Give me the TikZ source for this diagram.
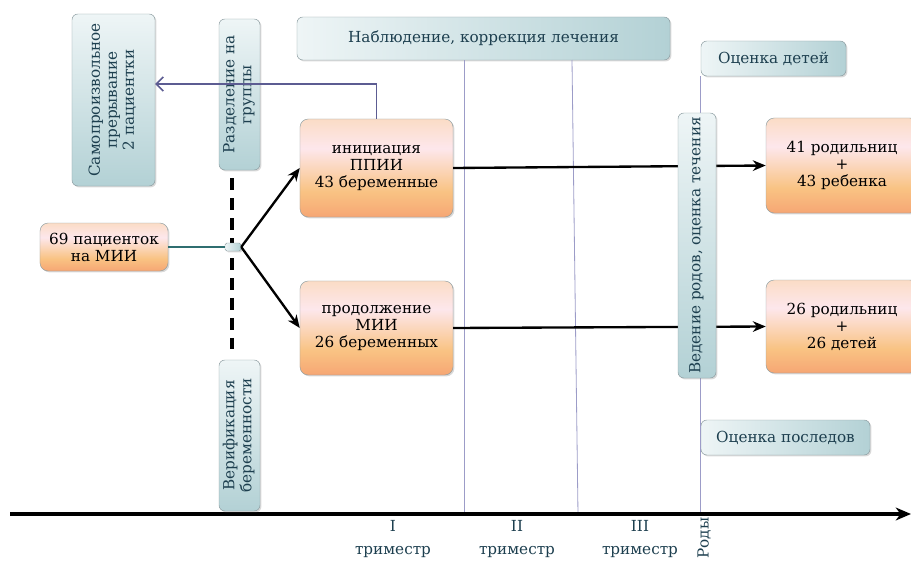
\documentclass[tikz,border=0pt]{standalone}
\usepackage{fontspec}
\setmainfont{DejaVu Serif}
\usetikzlibrary{arrows.meta,shadows}
\definecolor{boxtext}{HTML}{1D3F4F}
\definecolor{bluelight}{HTML}{EEF5F6}
\definecolor{bluedark}{HTML}{B3D1D5}
\definecolor{boxborder}{HTML}{8E9EA2}
\definecolor{timeline}{HTML}{9C9CC8}
\definecolor{backarrow}{HTML}{5C5C92}
\definecolor{feedline}{HTML}{2F6E70}
\definecolor{obot}{HTML}{F6A674}
\definecolor{oyel}{HTML}{F9C383}
\definecolor{opink}{HTML}{FDE7EC}
\definecolor{otop}{HTML}{FBDCC6}
\pgfdeclareverticalshading{orangefill}{100bp}{color(0bp)=(obot); color(25bp)=(obot); color(38bp)=(oyel); color(60bp)=(opink); color(75bp)=(otop); color(100bp)=(otop)}
\newcommand{\rottext}[1]{\rotatebox{90}{\begin{tabular}{@{}c@{}}#1\end{tabular}}}
\begin{document}
\begin{tikzpicture}[x=0.03cm, y=-0.03cm,
		every node/.style={font=\fontsize{13}{14.5}\selectfont},
		bluebox/.style={draw=boxborder, rounded corners=5pt, left color=bluelight, right color=bluedark, text=boxtext, inner sep=0pt,
				drop shadow={shadow xshift=1.2pt, shadow yshift=-1.2pt, opacity=0.3}},
		bluevbox/.style={bluebox, top color=bluelight, bottom color=bluedark},
		orangebox/.style={draw=boxborder, rounded corners=7pt, shading=orangefill, text=black, align=center, inner sep=0pt,
				drop shadow={shadow xshift=1.2pt, shadow yshift=-1.2pt, opacity=0.3}},
		timelabel/.style={text=boxtext, align=center, font=\fontsize{13}{19}\selectfont},
		flow/.style={line width=2pt, -{Stealth[length=11pt, width=9pt, inset=3.5pt]}},
		phase/.style={timeline, line width=0.7pt}]
	\useasboundingbox (0,0) rectangle (911,561);
	\clip (0,0) rectangle (911,561);
	\node[bluebox, minimum width=11.19cm, minimum height=1.29cm] (nabl) at (483.5,38.5) {Наблюдение, коррекция лечения};
	\node[bluebox, minimum width=4.35cm, minimum height=1.05cm] (ocdet) at (773.5,58.5) {Оценка детей};
	\node[bluebox, minimum width=5.07cm, minimum height=1.05cm] (ocpos) at (785.5,437.5) {Оценка последов};
	\coordinate (axstart) at (10,514);
	\coordinate (axend) at (911,514);
	\coordinate (tri2top) at (572,60);
	\coordinate (tri2bot) at (578,514);
	\draw[phase] (nabl.south -| 464,0) -- (axstart -| 464,0);
	\draw[phase] (tri2top) -- (tri2bot);
	\draw[phase] (ocdet.south west) -- (ocdet.south west |- axstart);
	\draw[line width=3pt, -{Stealth[length=13pt, width=11pt, inset=4pt]}] (axstart) -- (axend);
	\node[bluevbox, minimum width=2.49cm, minimum height=5.16cm] (samo) at (113.5,100) {\rottext{Самопроизвольное\\прерывание\\ 2 пациентки}};
	\node[bluevbox, minimum width=1.23cm, minimum height=4.53cm] (razd) at (239.5,94.5) {\rottext{Разделение на\\группы}};
	\node[bluevbox, minimum width=1.23cm, minimum height=4.53cm] (verif) at (239.5,435.5) {\rottext{Верификация\\беременности}};
	\node[orangebox, minimum width=3.84cm, minimum height=1.44cm] (pac) at (104,247) {69 пациенток\\на МИИ};
	\node[orangebox, minimum width=4.59cm, minimum height=2.94cm] (init) at (376.5,168) {инициация\\ППИИ\\43 беременные};
	\node[orangebox, minimum width=4.59cm, minimum height=2.82cm] (prod) at (376.5,328) {продолжение\\МИИ\\26 беременных};
	\node[orangebox, minimum width=4.56cm, minimum height=2.85cm] (rod41) at (842,165.5) {41 родильниц\\+\\43 ребенка};
	\node[orangebox, minimum width=4.56cm, minimum height=2.79cm] (rod26) at (842,326.5) {26 родильниц\\+\\26 детей};
	\coordinate (bend) at (376.5,84);
	\draw[line width=2.6pt, dash pattern=on 10pt off 7pt, shorten <=7pt, shorten >=7pt] (razd.south -| 232,0) -- (verif.north -| 232,0);
	\node[bluebox, rounded corners=1.5pt, minimum width=0.48cm, minimum height=0.24cm] (junc) at (233,247) {};
	\draw[feedline, line width=1.2pt] (pac.east) -- (junc.west);
	\draw[flow] (junc.east) -- (init.west);
	\draw[flow] (junc.east) -- (prod.west);
	\draw[backarrow, line width=1.3pt, -{Straight Barb[length=6pt, width=12pt]}] (init.north) -- (bend) -- (samo.east |- bend);
	\draw[flow] (init.east) -- (rod41.west);
	\draw[flow] (prod.east) -- (rod26.west);
	\node[bluevbox, minimum width=1.14cm, minimum height=7.95cm] (veden) at (697,245.5) {\rottext{Ведение родов, оценка течения}};
	\node[timelabel] (tri1) at (393,539) {I\\триместр};
	\node[timelabel] (tri2) at (517,539) {II\\триместр};
	\node[timelabel] (tri3) at (640,539) {III\\триместр};
	\node[timelabel, rotate=90] (rody) at (704,538) {Роды};
\end{tikzpicture}
\end{document}
